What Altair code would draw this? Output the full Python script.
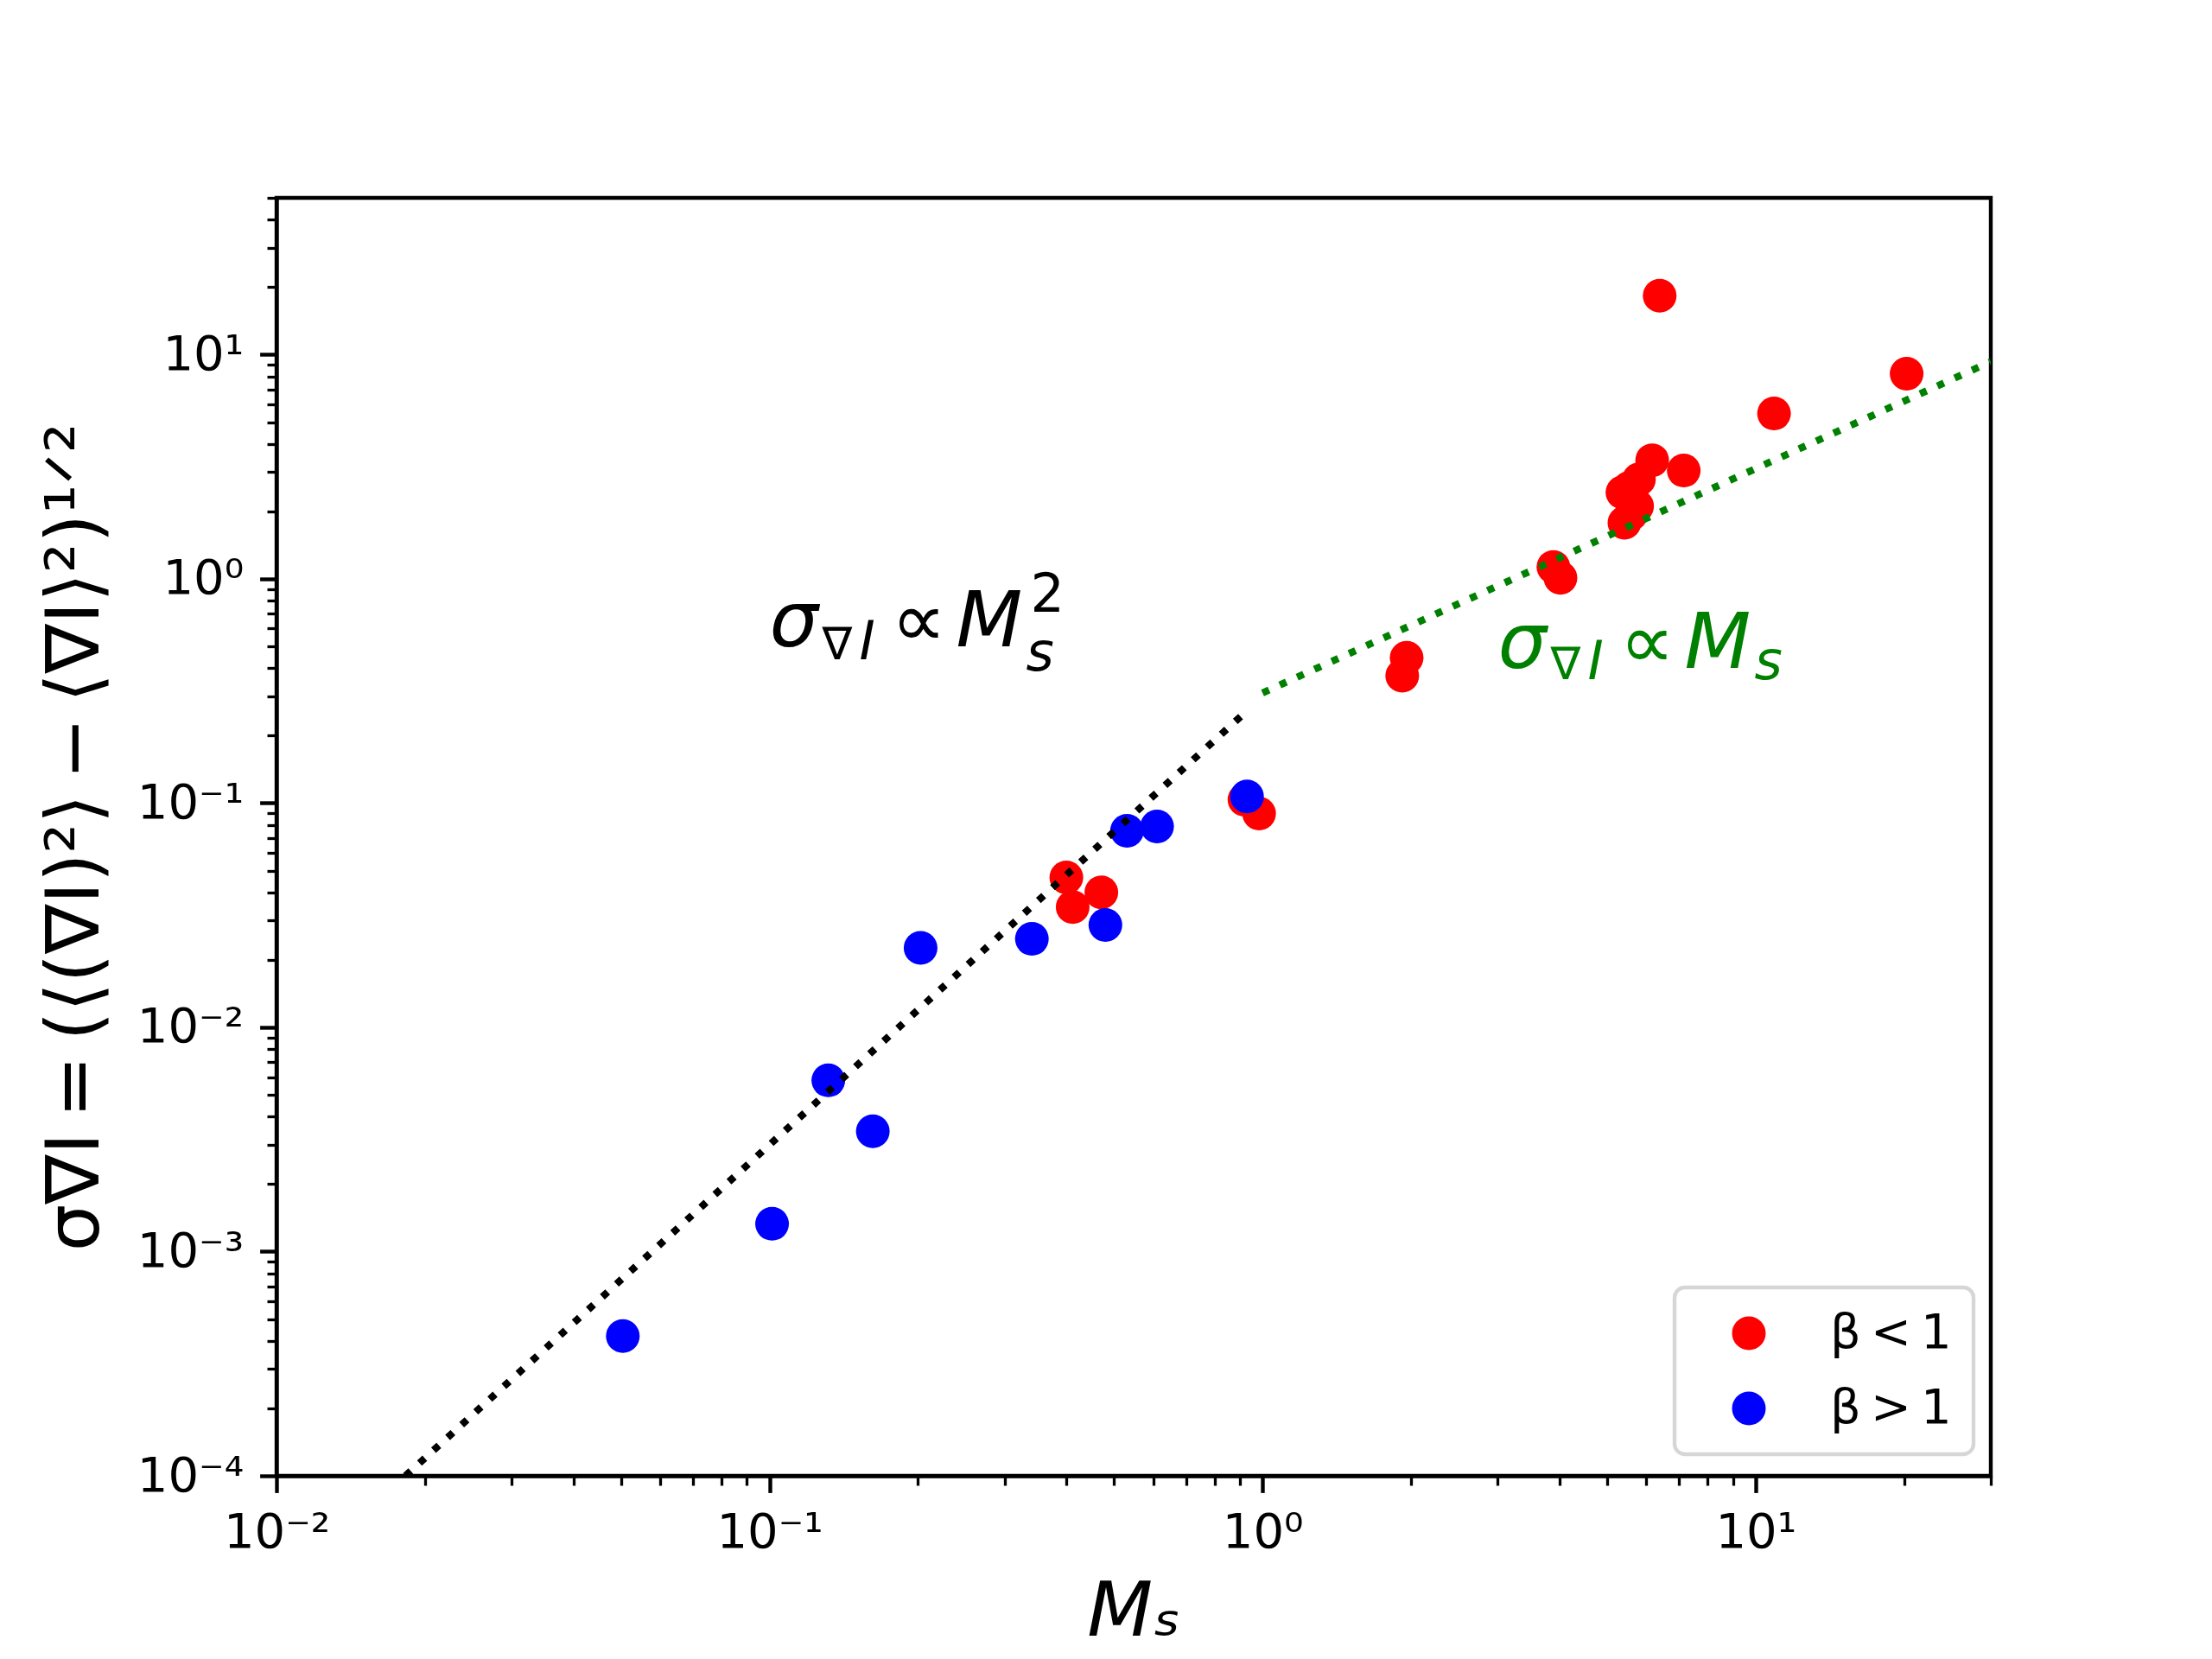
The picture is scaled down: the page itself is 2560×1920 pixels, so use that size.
import altair as alt
import pandas as pd

# ---------------- data ----------------
red_x = [0.400, 0.412, 0.471, 0.919, 0.984, 1.92, 1.96, 3.89, 4.02,
         5.42, 5.60, 5.75, 5.37, 5.55, 5.80, 6.17, 7.15, 6.39, 10.9, 20.25]
red_y = [0.0466, 0.0344, 0.0400, 0.1036, 0.0899, 0.370, 0.445, 1.13, 1.01,
         1.78, 1.95, 2.11, 2.43, 2.55, 2.78, 3.38, 3.04, 18.3, 5.46, 8.22]
blue_x = [0.0504, 0.1012, 0.1316, 0.162, 0.2025, 0.3405, 0.480, 0.531, 0.611, 0.930]
blue_y = [0.00042, 0.00133, 0.0058, 0.00344, 0.0226, 0.0248, 0.0286, 0.0752, 0.0787, 0.107]

# fitted guide lines (end points)
m2_x = [0.01826, 0.93]
m2_y = [1.0e-4, 0.258]
m1_x = [1.0, 30.0]
m1_y = [0.31, 9.3]

group_labels = ["β\u2009<\u20091", "β\u2009>\u20091"]
group_colors = ["#ff0000", "#0000ff"]

# annotation anchors (data coordinates)
ann_black = (0.1, 0.5)
ann_green = (3.0, 0.4)

x_domain = [0.01, 30]
y_domain = [1e-4, 50]

# ---------------- styling ----------------
FONT = "DejaVu Sans"
MAJ_LEN, MIN_LEN = 19.4, 11.0
MAJ_W, MIN_W = 4.4, 3.3

x_ticks = [k * 10.0 ** e for e in range(-2, 2) for k in range(1, 10)] + [20.0, 30.0]
y_ticks = [k * 10.0 ** e for e in range(-4, 1) for k in range(1, 10)] + [10.0, 20.0, 30.0, 40.0, 50.0]

IS_POW = "abs(log(datum.value)/LN10 - round(log(datum.value)/LN10)) < 0.001"
EXP = "toString(round(log(datum.value)/LN10))"
SUP = EXP
for a, b in [("-", "⁻"), ("0", "⁰"), ("1", "¹"), ("2", "²"), ("3", "³"), ("4", "⁴")]:
    SUP = f"replace({SUP}, '{a}', '{b}')"
LABEL_EXPR = f"{IS_POW} ? '10' + {SUP} : ''"

tick_size = {"condition": {"test": IS_POW, "value": MAJ_LEN}, "value": MIN_LEN}
tick_width = {"condition": {"test": IS_POW, "value": MAJ_W}, "value": MIN_W}

W, H = 1984, 1479

common_axis = dict(
    labelExpr=LABEL_EXPR, tickSize=tick_size, tickWidth=tick_width,
    labelFontSize=56, labelFont=FONT, labelColor="black", labelPadding=19,
    labelFlush=False, labelOverlap=False, grid=False,
    domainColor="black", domainWidth=4.4, tickColor="black",
    titleFont=FONT, titleColor="black", titleFontWeight="normal",
)

x_axis = alt.Axis(values=x_ticks, title="Mₛ", titleFontSize=88, titleFontStyle="italic",
                  titleX=W / 2, titleY=184, titleAlign="center", titleBaseline="alphabetic",
                  **common_axis)
y_axis = alt.Axis(values=y_ticks,
                  title="σ∇I\u2009=\u2009(⟨(∇I)²⟩\u2009−\u2009⟨∇I⟩²)¹ᐟ²",
                  titleFontSize=86, titleAngle=270, titleX=-207, titleY=H / 2,
                  titleAlign="center", titleBaseline="alphabetic",
                  **common_axis)


def X():
    return alt.X("Ms:Q", scale=alt.Scale(type="log", domain=x_domain, nice=False), axis=x_axis)


def Y():
    return alt.Y("sigma:Q", scale=alt.Scale(type="log", domain=y_domain, nice=False), axis=y_axis)


pts = pd.DataFrame({
    "Ms": red_x + blue_x,
    "sigma": red_y + blue_y,
    "group": [group_labels[0]] * len(red_x) + [group_labels[1]] * len(blue_x),
})

points = alt.Chart(pts).mark_circle(size=1521, opacity=1).encode(
    x=X(), y=Y(),
    color=alt.Color("group:N",
                    scale=alt.Scale(domain=group_labels, range=group_colors),
                    legend=alt.Legend(title=None, orient="none", legendX=1618, legendY=1261,
                                      padding=25, symbolOffset=33, labelOffset=66,
                                      rowPadding=31, labelFontSize=56, labelFont=FONT,
                                      labelColor="black", symbolSize=1521, symbolType="circle",
                                      symbolStrokeWidth=0, symbolOpacity=1,
                                      strokeColor="#d6d6d6", cornerRadius=12,
                                      fillColor="white")),
)

dot = dict(strokeWidth=8.3, strokeDash=[8.3, 13.7], strokeCap="butt", clip=True)
line_m2 = alt.Chart(pd.DataFrame({"Ms": m2_x, "sigma": m2_y})).mark_line(color="black", **dot).encode(x=X(), y=Y())
line_m1 = alt.Chart(pd.DataFrame({"Ms": m1_x, "sigma": m1_y})).mark_line(color="#008000", **dot).encode(x=X(), y=Y())


def piece(anchor, text, color, size, style, dx, dy):
    df = pd.DataFrame({"Ms": [anchor[0]], "sigma": [anchor[1]]})
    return alt.Chart(df).mark_text(
        text=text, color=color, fontSize=size, fontStyle=style, font=FONT,
        align="left", baseline="alphabetic", dx=dx, dy=dy,
    ).encode(x=X(), y=Y())


BIG, SMALL = 89, 62
texts = [
    piece(ann_black, "σ", "black", BIG, "italic", 0, 0),
    piece(ann_black, "∇", "black", 52, "normal", 61, 15),
    piece(ann_black, "I", "black", SMALL, "italic", 104, 15),
    piece(ann_black, "∝", "black", BIG, "normal", 141, 0),
    piece(ann_black, "M", "black", BIG, "italic", 216, 0),
    piece(ann_black, "s", "black", SMALL, "italic", 297, 28),
    piece(ann_black, "2", "black", SMALL, "normal", 302, -40),
    piece(ann_green, "σ", "#008000", BIG, "italic", 0, 0),
    piece(ann_green, "∇", "#008000", 52, "normal", 61, 13),
    piece(ann_green, "I", "#008000", SMALL, "italic", 104, 13),
    piece(ann_green, "∝", "#008000", BIG, "normal", 141, 0),
    piece(ann_green, "M", "#008000", BIG, "italic", 216, 0),
    piece(ann_green, "s", "#008000", SMALL, "italic", 297, 13),
]

chart = alt.layer(points, line_m2, line_m1, *texts).properties(
    width=W, height=H,
    padding={"left": 312, "top": 221, "right": 248, "bottom": 204},
    autosize=alt.AutoSizeParams(type="none"),
).configure(background="white").configure_view(
    stroke="black", strokeWidth=4.4
).configure_legend(strokeWidth=4.4)

chart.save("out.html", embed_options={"renderer": "svg", "actions": False})
